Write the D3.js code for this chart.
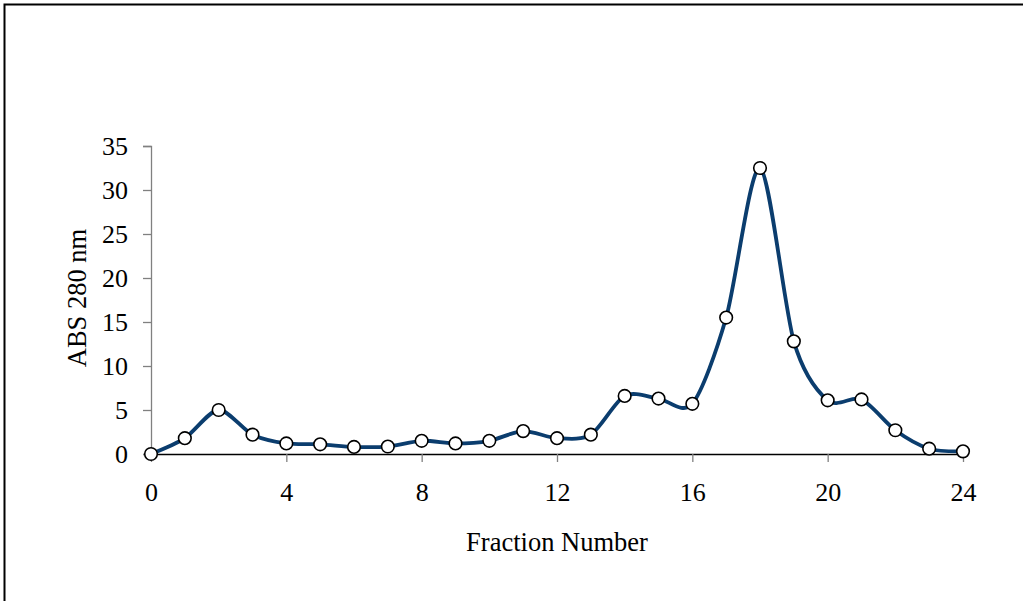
<!DOCTYPE html>
<html><head><meta charset="utf-8">
<script src="https://cdn.jsdelivr.net/npm/d3@7"></script>
<style>body{margin:0;background:#fff;} svg{display:block;}</style>
</head><body>
<svg id="c" width="1023" height="601"></svg>
<script>
const fractions = [0,1,2,3,4,5,6,7,8,9,10,11,12,13,14,15,16,17,18,19,20,21,22,23,24];
const absValues = [0,1.8,5.0,2.2,1.2,1.1,0.8,0.85,1.5,1.2,1.5,2.6,1.8,2.2,6.6,6.3,5.7,15.5,32.5,12.8,6.1,6.2,2.7,0.6,0.3];
const xTicks = [0,4,8,12,16,20,24];
const yTicks = [0,5,10,15,20,25,30,35];

const svg = d3.select('#c');
const font = '"Liberation Serif","Times New Roman",serif';

svg.append('rect').attr('x',4.5).attr('y',4.5).attr('width',1040).attr('height',620)
  .attr('fill','none').attr('stroke','#000').attr('stroke-width',2);

const x = d3.scaleLinear().domain([0,24]).range([151,963]);
const y = d3.scaleLinear().domain([0,35]).range([454,146]);

// y axis
const ya = svg.append('g').attr('transform','translate(151,0)')
  .call(d3.axisLeft(y).tickValues(yTicks).tickSize(8).tickPadding(15).tickFormat(d3.format('d')));
ya.select('.domain').attr('stroke','#808080').attr('stroke-width',1.3);
ya.selectAll('.tick line').attr('stroke','#808080').attr('stroke-width',1.3);
ya.selectAll('text').attr('font-family',font).attr('font-size',26).attr('fill','#000');

// x axis
const xa = svg.append('g').attr('transform','translate(0,454)')
  .call(d3.axisBottom(x).tickValues(xTicks).tickSize(8).tickPadding(21).tickSizeOuter(0).tickFormat(d3.format('d')));
xa.select('.domain').attr('stroke','#000').attr('stroke-width',1.3);
xa.selectAll('.tick line').attr('stroke','#808080').attr('stroke-width',1.3);
xa.selectAll('text').attr('font-family',font).attr('font-size',26).attr('fill','#000');

// titles
svg.append('text').attr('x',557).attr('y',551).attr('text-anchor','middle')
  .attr('font-family',font).attr('font-size',26.5).text('Fraction Number');
svg.append('text').attr('transform','translate(86,298) rotate(-90)').attr('text-anchor','middle')
  .attr('font-family',font).attr('font-size',26.5).text('ABS 280 nm');

const data = fractions.map((f,i)=>({f, v:absValues[i]}));
const line = d3.line().x(d=>x(d.f)).y(d=>y(d.v)).curve(d3.curveCardinal.tension(0.15));
svg.append('path').datum(data).attr('d',line).attr('fill','none')
  .attr('stroke','#0b3d6e').attr('stroke-width',3.8).attr('stroke-linejoin','round');

svg.selectAll('circle.pt').data(data).enter().append('circle').attr('class','pt')
  .attr('cx',d=>x(d.f)).attr('cy',d=>y(d.v)).attr('r',6.3)
  .attr('fill','#fff').attr('stroke','#000').attr('stroke-width',1.6);
</script>
</body></html>
